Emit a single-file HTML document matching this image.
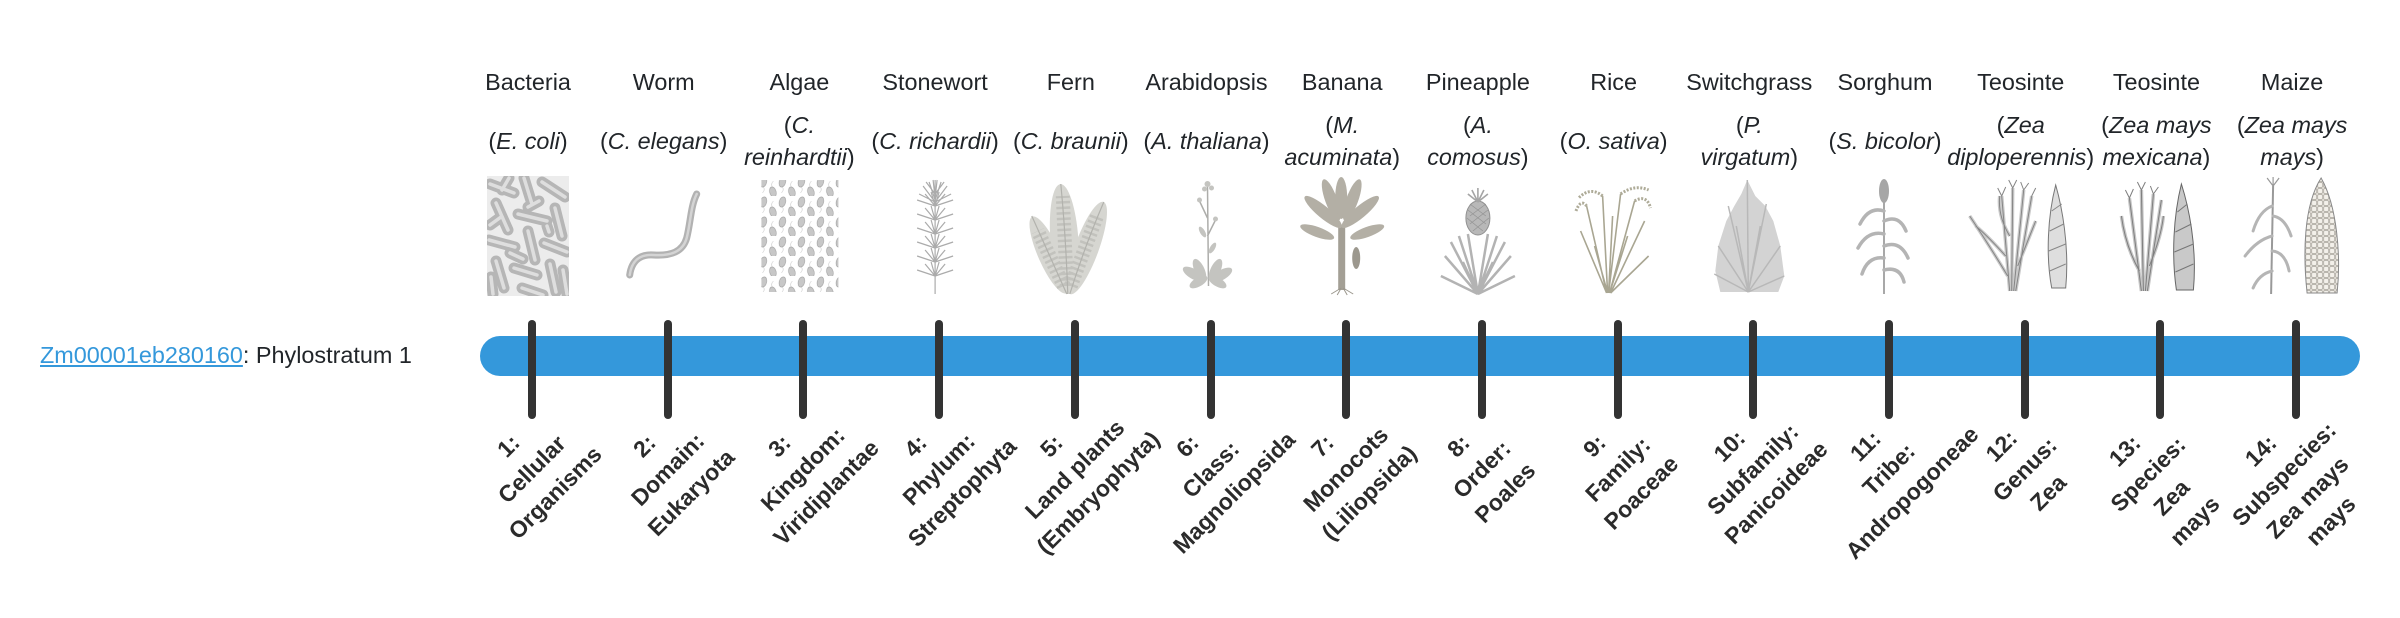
<!DOCTYPE html>
<html>
<head>
<meta charset="utf-8">
<style>
  html,body{margin:0;padding:0;background:#fff;}
  body{width:2400px;height:580px;overflow:hidden;position:relative;font-family:"Liberation Sans",Arial,sans-serif;color:#212529;}
  .n{position:absolute;top:66px;width:200px;text-align:center;font-size:23.4px;line-height:32px;white-space:nowrap;}
  .s{position:absolute;top:109px;height:64px;width:200px;display:flex;flex-direction:column;justify-content:center;align-items:center;text-align:center;font-size:23.4px;line-height:32px;white-space:nowrap;}
  .s i{font-style:italic;}
  .bar{position:absolute;left:480px;top:336px;width:1880px;height:40px;border-radius:20px;background:#3498db;}
  .t{position:absolute;top:320px;width:8px;height:99px;border-radius:4px;background:#333;}
  .l{position:absolute;top:420px;width:240px;text-align:center;font-weight:bold;font-size:23px;line-height:33px;white-space:nowrap;color:#2b2b2b;transform:rotate(-45deg);transform-origin:50% 50%;}
  .lbl{position:absolute;left:40px;top:339px;font-size:23.4px;line-height:32px;white-space:nowrap;}
  .lbl a{color:#3498db;text-decoration:underline;}
  svg.img{position:absolute;left:0;top:176px;overflow:visible;}
</style>
</head>
<body>

<div class="lbl"><a>Zm00001eb280160</a>: Phylostratum 1</div>

<!-- names -->
<div class="n" style="left:428px">Bacteria</div>
<div class="n" style="left:563.7px">Worm</div>
<div class="n" style="left:699.4px">Algae</div>
<div class="n" style="left:835.1px">Stonewort</div>
<div class="n" style="left:970.8px">Fern</div>
<div class="n" style="left:1106.5px">Arabidopsis</div>
<div class="n" style="left:1242.2px">Banana</div>
<div class="n" style="left:1377.9px">Pineapple</div>
<div class="n" style="left:1513.6px">Rice</div>
<div class="n" style="left:1649.3px">Switchgrass</div>
<div class="n" style="left:1785px">Sorghum</div>
<div class="n" style="left:1920.7px">Teosinte</div>
<div class="n" style="left:2056.4px">Teosinte</div>
<div class="n" style="left:2192.1px">Maize</div>

<!-- species -->
<div class="s" style="left:428px"><div>(<i>E. coli</i>)</div></div>
<div class="s" style="left:563.7px"><div>(<i>C. elegans</i>)</div></div>
<div class="s" style="left:699.4px"><div>(<i>C.</i></div><div><i>reinhardtii</i>)</div></div>
<div class="s" style="left:835.1px"><div>(<i>C. richardii</i>)</div></div>
<div class="s" style="left:970.8px"><div>(<i>C. braunii</i>)</div></div>
<div class="s" style="left:1106.5px"><div>(<i>A. thaliana</i>)</div></div>
<div class="s" style="left:1242.2px"><div>(<i>M.</i></div><div><i>acuminata</i>)</div></div>
<div class="s" style="left:1377.9px"><div>(<i>A.</i></div><div><i>comosus</i>)</div></div>
<div class="s" style="left:1513.6px"><div>(<i>O. sativa</i>)</div></div>
<div class="s" style="left:1649.3px"><div>(<i>P.</i></div><div><i>virgatum</i>)</div></div>
<div class="s" style="left:1785px"><div>(<i>S. bicolor</i>)</div></div>
<div class="s" style="left:1920.7px"><div>(<i>Zea</i></div><div><i>diploperennis</i>)</div></div>
<div class="s" style="left:2056.4px"><div>(<i>Zea mays</i></div><div><i>mexicana</i>)</div></div>
<div class="s" style="left:2192.1px"><div>(<i>Zea mays</i></div><div><i>mays</i>)</div></div>

<!-- images -->
<svg class="img" width="2400" height="125" viewBox="0 0 2400 125" xmlns="http://www.w3.org/2000/svg">
  <defs>
    <clipPath id="cb"><rect width="82" height="120"/></clipPath>
    <pattern id="pa" width="19" height="20" patternUnits="userSpaceOnUse">
      <ellipse cx="5" cy="6" rx="3.2" ry="5.2" fill="#c7c7c7" stroke="#a0a0a0" stroke-width=".6" transform="rotate(15 5 6)"/>
      <ellipse cx="14.5" cy="16" rx="3.2" ry="5.2" fill="#c7c7c7" stroke="#a0a0a0" stroke-width=".6" transform="rotate(-15 14.5 16)"/>
      <path d="M5 11q2 3-1 6M14 11q-2-3 1-6" stroke="#bdbdbd" stroke-width=".5" fill="none"/>
    </pattern>
    <pattern id="pk" width="6" height="6" patternUnits="userSpaceOnUse">
      <rect width="6" height="6" fill="#ece8e1"/>
      <rect x=".5" y=".5" width="5" height="5" rx="1.5" fill="#f3f0ea" stroke="#a8a49c" stroke-width=".7"/>
    </pattern>
  </defs>

  <!-- 1 Bacteria -->
  <g transform="translate(487,0)">
    <g clip-path="url(#cb)">
      <rect width="82" height="120" fill="#ececec"/>
      <path d="M3 8L27 17M37 2L45 28M55 6L78 21M9 27L21 54M31 38L60 45M68 32L75 60M2 64L28 71M41 55L48 84M57 67L80 76M9 85L17 112M27 92L50 99M63 88L69 116M35 112L56 119M76 94L80 118M14 41L3 49M22 2L15 14M52 25L41 31M4 101L6 118M23 77L36 83M60 50L62 56" stroke="#b6b6b6" stroke-width="11" stroke-linecap="round" fill="none"/>
      <path d="M3 8L27 17M37 2L45 28M55 6L78 21M9 27L21 54M31 38L60 45M68 32L75 60M2 64L28 71M41 55L48 84M57 67L80 76M9 85L17 112M27 92L50 99M63 88L69 116M35 112L56 119M76 94L80 118M14 41L3 49M22 2L15 14M52 25L41 31M4 101L6 118M23 77L36 83M60 50L62 56" stroke="#dedede" stroke-width="3.5" stroke-linecap="round" fill="none"/>
    </g>
  </g>

  <!-- 2 Worm -->
  <g transform="translate(622.7,0)" fill="none" stroke-linecap="round">
    <path d="M7 99C9 84 18 78 31 79C48 80 60 76 64 62C68 46 68 30 74 18" stroke="#b2b2b2" stroke-width="7"/>
    <path d="M7 99C9 84 18 78 31 79C48 80 60 76 64 62C68 46 68 30 74 18" stroke="#d4d4d4" stroke-width="2.5"/>
  </g>

  <!-- 3 Algae -->
  <g transform="translate(758.4,0)">
    <rect x="3" y="4" width="77" height="112" fill="url(#pa)"/>
  </g>

  <!-- 4 Stonewort -->
  <g transform="translate(894.1,0)" fill="none" stroke="#ababab" stroke-width="1.2">
    <path d="M41 4L41 118"/>
    <path d="M41 30l-18-6M41 30l18-6M41 30l-10-12M41 30l10-12M41 30l-4-14M41 30l4-14
             M41 44l-18-6M41 44l18-6M41 44l-10-12M41 44l10-12M41 44l-4-14M41 44l4-14
             M41 58l-18-6M41 58l18-6M41 58l-10-12M41 58l10-12M41 58l-4-14M41 58l4-14
             M41 72l-18-6M41 72l18-6M41 72l-10-12M41 72l10-12M41 72l-4-14M41 72l4-14
             M41 86l-18-6M41 86l18-6M41 86l-10-12M41 86l10-12M41 86l-4-14M41 86l4-14
             M41 100l-18-6M41 100l18-6M41 100l-10-12M41 100l10-12M41 100l-4-14M41 100l4-14"/>
    <path d="M41 26l-12-16M41 26l12-16M41 24l-6-18M41 24l6-18M41 26l-16-8M41 26l16-8M41 22l-2-18M41 22l2-18M41 18l-9-12M41 18l9-12"/>
  </g>

  <!-- 5 Fern -->
  <g transform="translate(1029.8,0)">
    <g fill="#d6d6d1">
      <ellipse cx="19.5" cy="79" rx="11" ry="42" transform="rotate(-24 19.5 79)"/>
      <ellipse cx="34.5" cy="63" rx="14" ry="55" transform="rotate(-4 34.5 63)"/>
      <ellipse cx="57" cy="72" rx="12" ry="49" transform="rotate(20 57 72)"/>
    </g>
    <g fill="none" stroke="#bfbfba" stroke-width="14" stroke-dasharray="2.5 3" opacity=".85">
      <path d="M34 110L8 55"/>
      <path d="M37 110L33 20"/>
      <path d="M41 110L68 38"/>
    </g>
    <g fill="none" stroke="#b2b2ad" stroke-width="1.2">
      <path d="M37 118Q20 80 2 40M38 118Q36 60 31 8M40 118Q55 70 74 26"/>
    </g>
  </g>

  <!-- 6 Arabidopsis -->
  <g transform="translate(1165.5,0)">
    <path d="M43 110L42 10M42 42L34 25M42 60L50 44" stroke="#adadaa" stroke-width="1.5" fill="none"/>
    <g fill="#c4c4c0">
      <circle cx="42" cy="8" r="3"/><circle cx="39" cy="13" r="2.5"/><circle cx="46" cy="12" r="2.5"/>
      <circle cx="34" cy="24" r="2.5"/><circle cx="50" cy="43" r="2.5"/>
      <ellipse cx="37" cy="56" rx="2.5" ry="6" transform="rotate(-30 37 56)"/>
      <ellipse cx="47" cy="72" rx="2.5" ry="6" transform="rotate(30 47 72)"/>
      <ellipse cx="28" cy="98" rx="5" ry="12" transform="rotate(-60 28 98)"/>
      <ellipse cx="34" cy="94" rx="5" ry="12" transform="rotate(-25 34 94)"/>
      <ellipse cx="50" cy="94" rx="5" ry="12" transform="rotate(25 50 94)"/>
      <ellipse cx="56" cy="99" rx="5" ry="12" transform="rotate(60 56 99)"/>
      <ellipse cx="33" cy="106" rx="4.5" ry="10" transform="rotate(-120 33 106)"/>
      <ellipse cx="52" cy="106" rx="4.5" ry="10" transform="rotate(120 52 106)"/>
    </g>
  </g>

  <!-- 7 Banana -->
  <g transform="translate(1301.2,0)">
    <rect x="37" y="50" width="7" height="64" fill="#a39f95"/>
    <path d="M40 112l-10 6M40 112l-4 7M42 112l4 7M42 112l10 6" stroke="#9b978d" stroke-width="1" fill="none"/>
    <g fill="#b3afa5">
      <ellipse cx="22" cy="36" rx="6" ry="24" transform="rotate(-50 22 36)"/>
      <ellipse cx="30" cy="24" rx="6" ry="22" transform="rotate(-20 30 24)"/>
      <ellipse cx="40" cy="22" rx="6" ry="21"/>
      <ellipse cx="51" cy="24" rx="6" ry="22" transform="rotate(20 51 24)"/>
      <ellipse cx="59" cy="36" rx="6" ry="24" transform="rotate(50 59 36)"/>
      <ellipse cx="16" cy="56" rx="5" ry="18" transform="rotate(-70 16 56)"/>
      <ellipse cx="66" cy="56" rx="5" ry="18" transform="rotate(70 66 56)"/>
    </g>
    <ellipse cx="55" cy="82" rx="4" ry="11" fill="#9c988e"/>
  </g>

  <!-- 8 Pineapple -->
  <g transform="translate(1436.9,0)">
    <path d="M41 118L8 80M41 118L14 66M41 118L22 60M41 118L31 58M41 118L51 58M41 118L60 60M41 118L68 66M41 118L74 80M41 118L4 100M41 118L78 100M41 118L26 86M41 118L56 86" stroke="#b3b3b3" stroke-width="2.5" fill="none"/>
    <ellipse cx="41" cy="42" rx="12" ry="17" fill="#b8b8b8" stroke="#909090" stroke-width="1"/>
    <path d="M31 34l18 14M30 42l16 13M33 28l16 12M51 34l-18 14M52 42l-16 13M49 28l-16 12" stroke="#939393" stroke-width=".7" fill="none"/>
    <path d="M41 26l0-14M41 26l-6-12M41 26l6-12M41 26l-10-8M41 26l10-8" stroke="#a5a5a5" stroke-width="1.6" fill="none"/>
  </g>

  <!-- 9 Rice -->
  <g transform="translate(1572.6,0)" fill="none">
    <path d="M34 117L8 55M34 117L14 30M35 117L22 70M35 117L30 20M36 117L40 40M36 117L48 18M37 117L55 60M37 117L62 25M38 117L72 45M38 117L76 80" stroke="#a9a692" stroke-width="1.6"/>
    <path d="M14 30Q8 22 3 36M30 20Q18 10 6 22M48 18Q62 8 76 14M62 25Q74 18 78 32" stroke="#aeab98" stroke-width="3" stroke-dasharray="2 1.5"/>
  </g>

  <!-- 10 Switchgrass -->
  <g transform="translate(1708.3,0)">
    <path d="M39 4L47 20L57 30L65 45L72 70L76 100L70 116L12 116L7 95L10 70L18 45L26 30L33 18Z" fill="#d3d3d3"/>
    <path d="M40 116L39 4M40 116L20 30M40 116L58 28M40 116L10 70M40 116L72 70M40 116L6 98M40 116L76 100M40 116L28 50M40 116L52 50" stroke="#b8b8b8" stroke-width="1.5" fill="none"/>
  </g>

  <!-- 11 Sorghum -->
  <g transform="translate(1844,0)">
    <path d="M40 118L40 20" stroke="#a8a8a8" stroke-width="2" fill="none"/>
    <ellipse cx="40" cy="15" rx="5" ry="12" fill="#a6a6a6"/>
    <path d="M40 35Q25 30 16 48M40 45Q55 38 62 55M40 58Q24 54 14 72M40 70Q56 64 64 82M40 82Q24 80 18 98M40 94Q56 90 60 106" stroke="#b4b4b4" stroke-width="3.5" fill="none" stroke-linecap="round"/>
  </g>

  <!-- 12 Teosinte -->
  <g transform="translate(1979.7,0)">
    <path d="M30 115L22 20M32 115L33 12M34 115L44 14M36 115L52 20M28 100Q10 70-10 40M26 80Q8 60-4 50M38 90Q50 60 56 45M30 60Q18 40 20 20" stroke="#cacaca" stroke-width="3.5" fill="none"/>
    <path d="M30 115L22 20M32 115L33 12M34 115L44 14M36 115L52 20M28 100Q10 70-10 40M26 80Q8 60-4 50M38 90Q50 60 56 45M30 60Q18 40 20 20M22 20l-4-8M22 20l4-9M33 12l-4-8M33 12l4-8M44 14l-3-8M44 14l5-7M52 20l4-8" stroke="#858585" stroke-width="1" fill="none"/>
    <path d="M72 112C66 80 68 40 76 9C82 30 90 70 86 112Z" fill="#dedede" stroke="#777" stroke-width="1"/>
    <path d="M70 95L86 88M69 75L86 68M70 55L84 48M72 35L82 28" stroke="#888" stroke-width="1" fill="none"/>
  </g>

  <!-- 13 Teosinte mexicana -->
  <g transform="translate(2115.4,0)">
    <path d="M26 115L14 22M28 115L26 14M30 115L38 18M32 115L46 24M24 95Q10 70 6 40M34 90Q46 60 48 40" stroke="#c6c6c6" stroke-width="3.5" fill="none"/>
    <path d="M26 115L14 22M28 115L26 14M30 115L38 18M32 115L46 24M24 95Q10 70 6 40M34 90Q46 60 48 40M14 22l-4-8M14 22l4-9M26 14l-4-8M26 14l4-8M38 18l-3-8M38 18l5-7" stroke="#7e7e7e" stroke-width="1" fill="none"/>
    <path d="M61 114C56 80 58 40 66 8C73 30 82 70 78 114Z" fill="#c9c9c9" stroke="#666" stroke-width="1"/>
    <path d="M60 96L78 88M59 76L78 68M60 56L76 48M62 36L72 28" stroke="#777" stroke-width="1" fill="none"/>
  </g>

  <!-- 14 Maize -->
  <g transform="translate(2251.1,0)">
    <path d="M20 118L22 10" stroke="#999" stroke-width="2" fill="none"/>
    <path d="M21 30Q8 35 2 55M22 40Q34 42 40 60M21 60Q6 64-6 80M21 75Q34 76 38 95M21 95Q8 98 2 112" stroke="#b5b5b5" stroke-width="3" fill="none" stroke-linecap="round"/>
    <path d="M22 10l-6-8M22 10l6-8M22 10l0-9" stroke="#999" stroke-width="1.2" fill="none"/>
    <path d="M56 117C52 80 52 30 70 2C86 30 90 80 86 117Z" fill="url(#pk)" stroke="#888" stroke-width="1"/>
  </g>
</svg>

<!-- bar -->
<div class="bar"></div>
<div class="t" style="left:528px"></div>
<div class="t" style="left:663.7px"></div>
<div class="t" style="left:799.4px"></div>
<div class="t" style="left:935.1px"></div>
<div class="t" style="left:1070.8px"></div>
<div class="t" style="left:1206.5px"></div>
<div class="t" style="left:1342.2px"></div>
<div class="t" style="left:1477.9px"></div>
<div class="t" style="left:1613.6px"></div>
<div class="t" style="left:1749.3px"></div>
<div class="t" style="left:1885px"></div>
<div class="t" style="left:2020.7px"></div>
<div class="t" style="left:2156.4px"></div>
<div class="t" style="left:2292.1px"></div>

<!-- rotated labels -->
<div class="l" style="left:412px">1:<br>Cellular<br>Organisms</div>
<div class="l" style="left:547.7px">2:<br>Domain:<br>Eukaryota</div>
<div class="l" style="left:683.4px">3:<br>Kingdom:<br>Viridiplantae</div>
<div class="l" style="left:819.1px">4:<br>Phylum:<br>Streptophyta</div>
<div class="l" style="left:954.8px">5:<br>Land plants<br>(Embryophyta)</div>
<div class="l" style="left:1090.5px">6:<br>Class:<br>Magnoliopsida</div>
<div class="l" style="left:1226.2px">7:<br>Monocots<br>(Liliopsida)</div>
<div class="l" style="left:1361.9px">8:<br>Order:<br>Poales</div>
<div class="l" style="left:1497.6px">9:<br>Family:<br>Poaceae</div>
<div class="l" style="left:1633.3px">10:<br>Subfamily:<br>Panicoideae</div>
<div class="l" style="left:1769px">11:<br>Tribe:<br>Andropogoneae</div>
<div class="l" style="left:1904.7px">12:<br>Genus:<br>Zea</div>
<div class="l" style="left:2040.4px">13:<br>Species:<br>Zea<br>mays</div>
<div class="l" style="left:2176.1px">14:<br>Subspecies:<br>Zea mays<br>mays</div>

</body>
</html>
